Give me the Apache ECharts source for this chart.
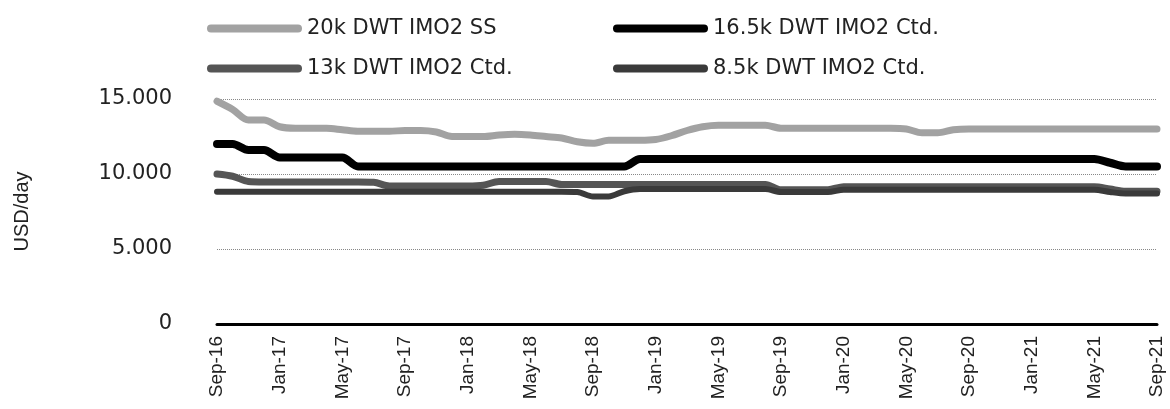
<!DOCTYPE html>
<html>
<head>
<meta charset="utf-8">
<title>Tanker earnings</title>
<script src="https://cdn.jsdelivr.net/npm/echarts@6/dist/echarts.min.js"></script>
<style>
  html, body { margin: 0; padding: 0; background: #fff; }
  #chart { width: 1170px; height: 409px; }
</style>
</head>
<body>
<div id="chart"></div>
<script>
// months Sep-16 .. Sep-21
var monthNames = ['Jan', 'Feb', 'Mar', 'Apr', 'May', 'Jun', 'Jul', 'Aug', 'Sep', 'Oct', 'Nov', 'Dec']
var categories = []
for (var i = 0; i < 61; i++) {
  var m = (8 + i) % 12
  var y = 16 + Math.floor((8 + i) / 12)
  categories.push(monthNames[m] + '-' + y)
}

var seriesNames = ['20k DWT IMO2 SS', '16.5k DWT IMO2 Ctd.', '13k DWT IMO2 Ctd.', '8.5k DWT IMO2 Ctd.']

var dwt20ss = [
  14850, 14300, 13600, 13600, 13150, 13050, 13050, 13050, 12950, 12850,
  12850, 12850, 12900, 12900, 12800, 12500, 12500, 12500, 12600, 12650,
  12600, 12500, 12400, 12150, 12050, 12250, 12250, 12250, 12300, 12550,
  12900, 13150, 13250, 13250, 13250, 13250, 13050, 13050, 13050, 13050,
  13050, 13050, 13050, 13050, 13000, 12750, 12750, 12950, 13000, 13000,
  13000, 13000, 13000, 13000, 13000, 13000, 13000, 13000, 13000, 13000,
  13000
]
var dwt165ctd = [
  12000, 12000, 11600, 11600, 11100, 11100, 11100, 11100, 11100, 10500,
  10500, 10500, 10500, 10500, 10500, 10500, 10500, 10500, 10500, 10500,
  10500, 10500, 10500, 10500, 10500, 10500, 10500, 11000, 11000, 11000,
  11000, 11000, 11000, 11000, 11000, 11000, 11000, 11000, 11000, 11000,
  11000, 11000, 11000, 11000, 11000, 11000, 11000, 11000, 11000, 11000,
  11000, 11000, 11000, 11000, 11000, 11000, 11000, 10750, 10500, 10500,
  10500
]
var dwt13ctd = [
  10000, 9850, 9500, 9470, 9470, 9470, 9470, 9470, 9470, 9470,
  9450, 9200, 9200, 9200, 9200, 9200, 9200, 9250, 9500, 9500,
  9500, 9500, 9300, 9300, 9300, 9300, 9300, 9300, 9300, 9300,
  9300, 9300, 9300, 9300, 9300, 9300, 8950, 8950, 8950, 8950,
  9150, 9150, 9150, 9150, 9150, 9150, 9150, 9150, 9150, 9150,
  9150, 9150, 9150, 9150, 9150, 9150, 9150, 9000, 8850, 8850,
  8850
]
var dwt85ctd = [
  8820, 8820, 8820, 8820, 8820, 8820, 8820, 8820, 8820, 8820,
  8820, 8820, 8820, 8820, 8820, 8820, 8820, 8820, 8820, 8820,
  8820, 8820, 8820, 8800, 8500, 8500, 8850, 9000, 9000, 9000,
  9000, 9000, 9000, 9000, 9000, 9000, 8800, 8800, 8800, 8800,
  8950, 8950, 8950, 8950, 8950, 8950, 8950, 8950, 8950, 8950,
  8950, 8950, 8950, 8950, 8950, 8950, 8950, 8800, 8700, 8700,
  8700
]

var seriesData = [dwt20ss, dwt165ctd, dwt13ctd, dwt85ctd]
var seriesColors = ['#a2a2a2', '#000000', '#555555', '#3a3a3a']
var seriesWidths = [7, 8, 7, 6]

var chart = echarts.init(document.getElementById('chart'))

var legendText = { fontFamily: 'DejaVu Sans', fontSize: 21, color: '#222' }
// pill shaped legend line
var pill = 'path://M4,0 L91,0 A4,4 0 0 1 91,8 L4,8 A4,4 0 0 1 4,0 Z'

chart.setOption({
  animation: false,
  legend: [
    {
      orient: 'vertical',
      left: 202,
      top: 13,
      icon: pill,
      itemWidth: 95,
      itemHeight: 8,
      itemGap: 19,
      textStyle: legendText,
      data: [seriesNames[0], seriesNames[2]]
    },
    {
      orient: 'vertical',
      left: 608,
      top: 13,
      icon: pill,
      itemWidth: 95,
      itemHeight: 8,
      itemGap: 19,
      textStyle: legendText,
      data: [seriesNames[1], seriesNames[3]]
    }
  ],
  grid: {
    left: 217,
    right: 13,
    top: 99,
    bottom: 85
  },
  xAxis: {
    type: 'category',
    boundaryGap: false,
    data: categories,
    axisLine: { lineStyle: { color: '#000', width: 3 } },
    axisTick: { show: false },
    axisLabel: {
      interval: 3,
      rotate: 90,
      margin: 12,
      fontFamily: 'Liberation Sans',
      fontSize: 19,
      color: '#222'
    }
  },
  yAxis: {
    type: 'value',
    min: 0,
    max: 15000,
    interval: 5000,
    name: 'USD/day',
    nameLocation: 'middle',
    nameGap: 185,
    nameTextStyle: { fontFamily: 'Liberation Sans', fontSize: 20, color: '#222' },
    axisLine: { show: false },
    axisTick: { show: false },
    axisLabel: {
      margin: 45,
      fontFamily: 'DejaVu Sans',
      fontSize: 21,
      color: '#222',
      formatter: function (v) {
        return v === 0 ? '0' : String(v).replace(/(\d)(?=(\d{3})+$)/g, '$1.')
      }
    },
    splitLine: { lineStyle: { color: '#888', type: 'dotted', width: 1 } }
  },
  series: seriesNames.map(function (name, k) {
    return {
      name: name,
      type: 'line',
      data: seriesData[k],
      smooth: 0.3,
      symbol: 'none',
      color: seriesColors[k],
      lineStyle: { color: seriesColors[k], width: seriesWidths[k], cap: 'round' }
    }
  })
})
</script>
</body>
</html>
